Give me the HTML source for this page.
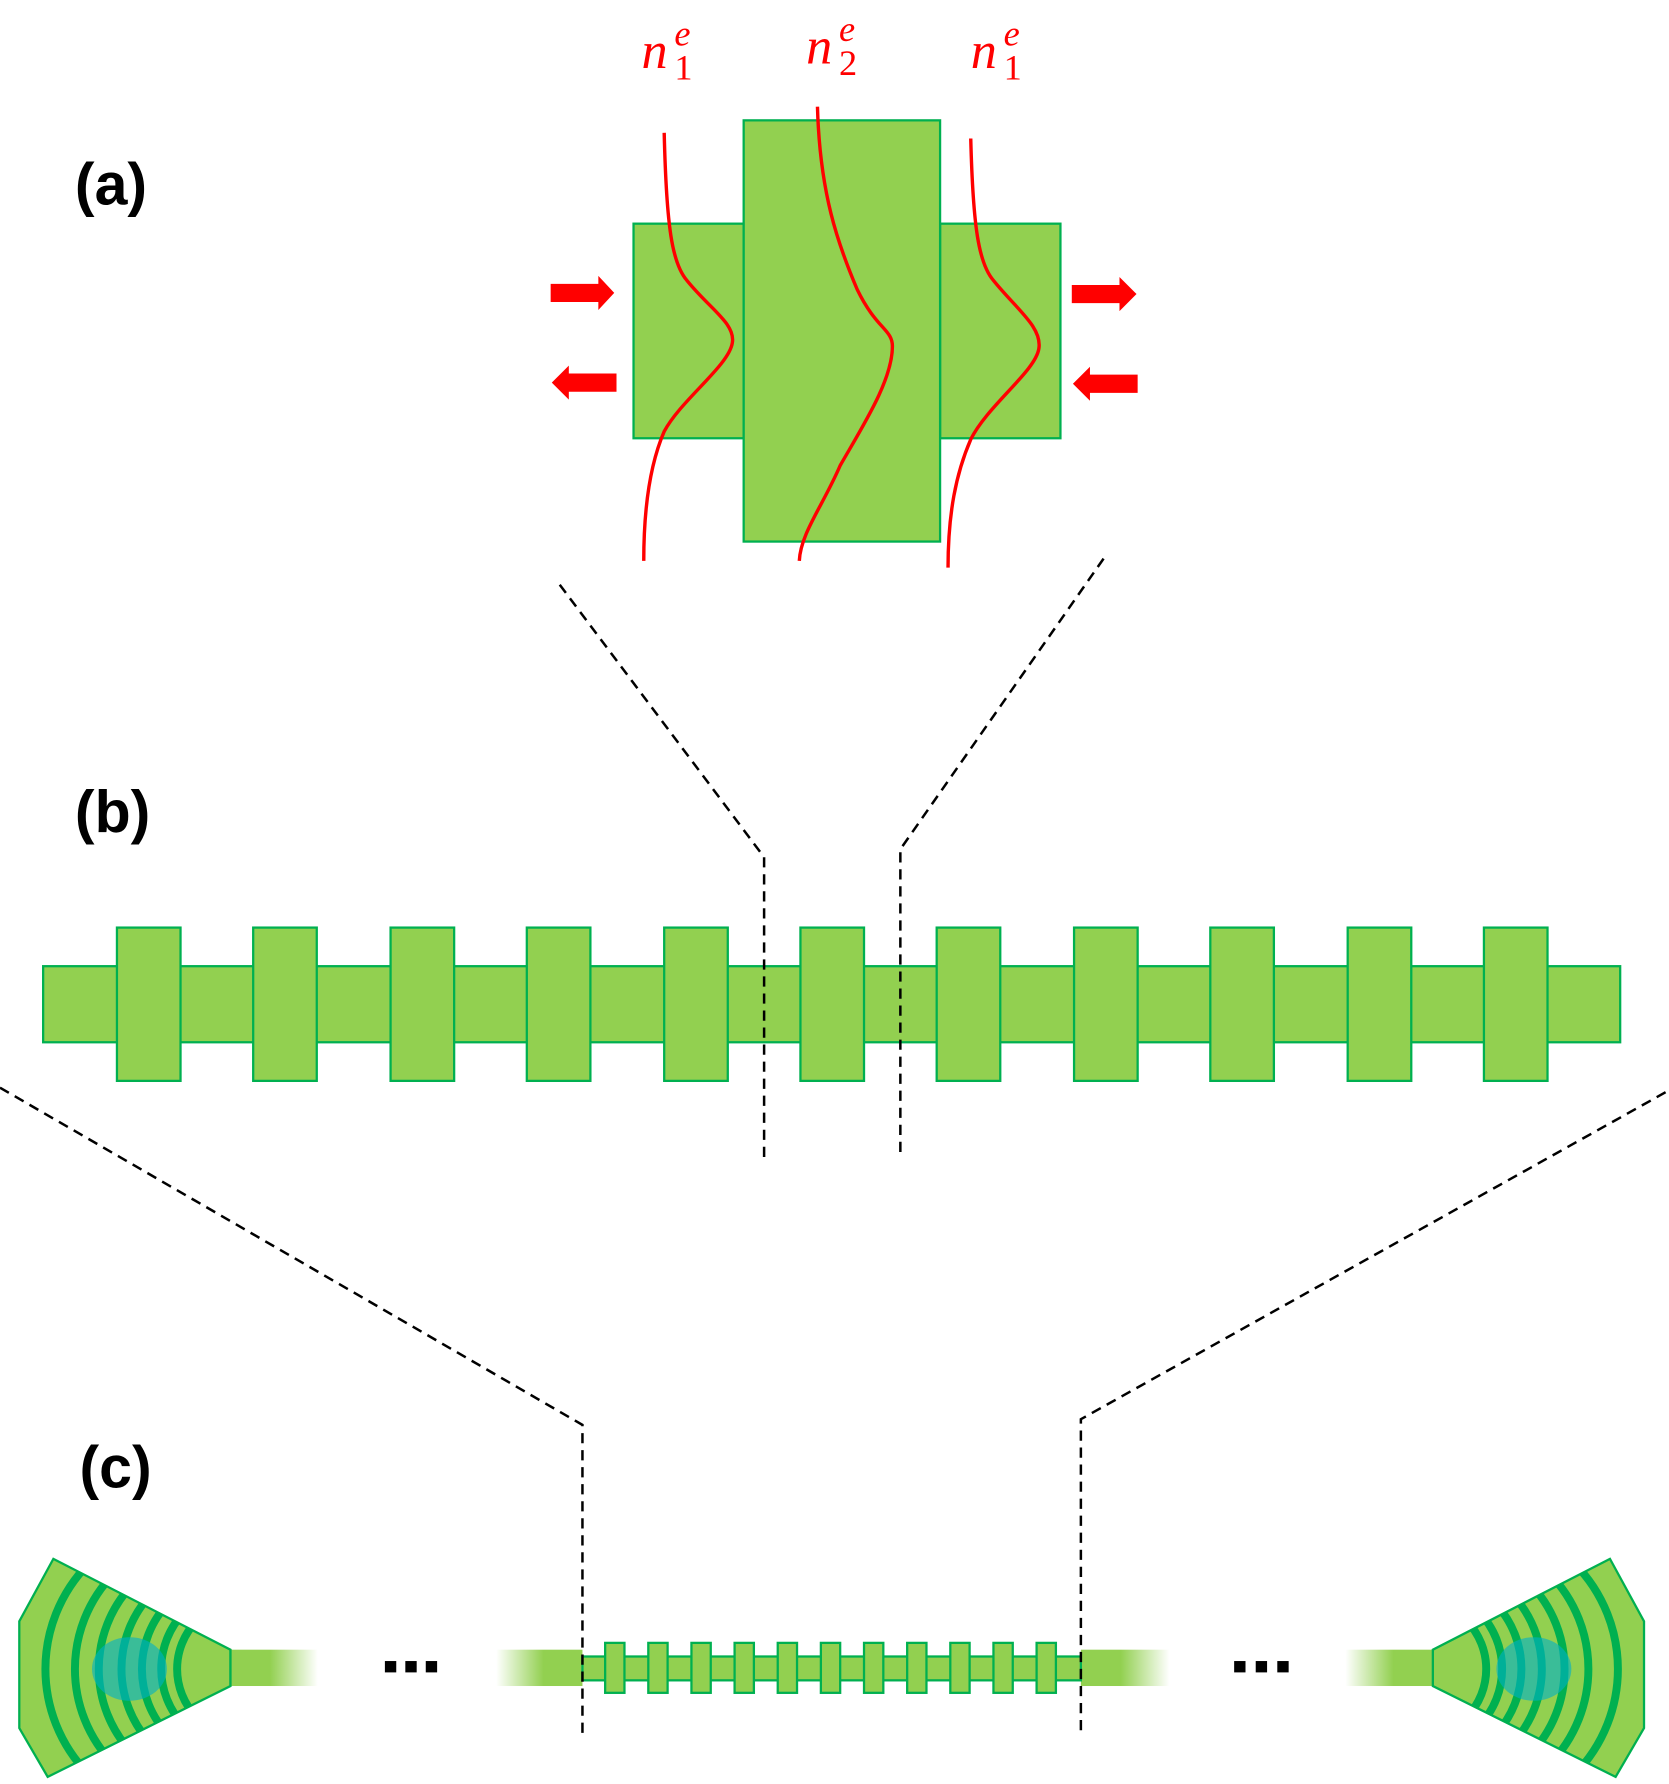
<!DOCTYPE html>
<html><head><meta charset="utf-8"><style>
html,body{margin:0;padding:0;background:#fff;}
svg{display:block;}
</style></head><body>
<svg width="1669" height="1784" viewBox="0 0 1470 1571.3" preserveAspectRatio="none" xmlns="http://www.w3.org/2000/svg">
<defs>
<linearGradient id="fo" x1="0" x2="1" y1="0" y2="0">
<stop offset="0" stop-color="#92d050"/><stop offset="0.45" stop-color="#92d050"/><stop offset="1" stop-color="#92d050" stop-opacity="0"/>
</linearGradient>
<linearGradient id="fi" x1="0" x2="1" y1="0" y2="0">
<stop offset="0" stop-color="#92d050" stop-opacity="0"/><stop offset="0.55" stop-color="#92d050"/><stop offset="1" stop-color="#92d050"/>
</linearGradient>
<clipPath id="hc"><polygon points="47,1373 17,1428 17,1522 42,1565 203,1485 203,1453"/></clipPath>
<g id="horn">
<polygon points="47,1373 17,1428 17,1522 42,1565 203,1485 203,1453" fill="#92d050" stroke="#00b050" stroke-width="2"/>
<g clip-path="url(#hc)" fill="none" stroke="#00b050" stroke-width="7">
<circle cx="172" cy="1470" r="132"/>
<circle cx="186" cy="1470" r="120"/>
<circle cx="195" cy="1470" r="108"/>
<circle cx="203" cy="1470" r="96"/>
<circle cx="209" cy="1470" r="84"/>
<circle cx="214" cy="1470" r="72"/>
<circle cx="217" cy="1470" r="61"/>
</g>
<ellipse cx="114" cy="1470" rx="33" ry="28" fill="#00b0c8" fill-opacity="0.6"/>
<rect x="203" y="1453" width="77" height="32" fill="url(#fo)"/>
<line x1="203" y1="1453" x2="203" y2="1485" stroke="#00b050" stroke-width="2"/>
</g>
</defs>

<g font-family="Liberation Sans, sans-serif" font-weight="bold" font-size="52" fill="#000">
<text x="66" y="180">(a)</text>
<text x="66" y="733">(b)</text>
<text x="70" y="1310">(c)</text>
</g>

<!-- (a) -->
<g fill="#92d050" stroke="#00b050" stroke-width="2">
<rect x="558" y="197" width="97" height="189"/>
<rect x="828" y="197" width="106" height="189"/>
<rect x="655" y="106" width="173" height="371"/>
</g>
<g fill="none" stroke="#ff0000" stroke-width="3">
<path d="M585,117 C587,200 592,232 605,247 C625,272 648,285 645,302 C642,322 600,352 585,380 C572,410 567,450 567,494"/>
<path d="M720,94 C722,170 738,215 755,255 C772,290 786,290 786,305 C786,335 760,375 740,410 C725,445 705,470 704,494"/>
<path d="M855,122 C857,200 862,232 875,247 C895,272 918,288 915,307 C912,327 870,357 855,387 C842,417 835,452 835,500"/>
</g>
<g fill="#ff0000">
<polygon points="485,250 527,250 527,243 541,258 527,273 527,266 485,266"/>
<polygon points="543,329 501,329 501,322 486,337 501,352 501,345 543,345"/>
<polygon points="944,251 986,251 986,244 1001,259 986,274 986,267 944,267"/>
<polygon points="1002,330 960,330 960,323 945,338 960,353 960,346 1002,346"/>
</g>
<g font-family="Liberation Serif, serif" fill="#ff0000" font-style="italic">
<text x="565" y="60" font-size="46">n</text><text x="594" y="40" font-size="32">e</text><text x="594" y="70" font-size="32" font-style="normal">1</text>
<text x="710" y="56" font-size="46">n</text><text x="739" y="36" font-size="32">e</text><text x="739" y="66" font-size="32" font-style="normal">2</text>
<text x="855" y="60" font-size="46">n</text><text x="884" y="40" font-size="32">e</text><text x="884" y="70" font-size="32" font-style="normal">1</text>
</g>

<!-- (b) -->
<rect x="38" y="851" width="1389" height="67" fill="#92d050" stroke="#00b050" stroke-width="2"/>
<g fill="#92d050" stroke="#00b050" stroke-width="2">
<rect x="103" y="817" width="56" height="135"/>
<rect x="223" y="817" width="56" height="135"/>
<rect x="344" y="817" width="56" height="135"/>
<rect x="464" y="817" width="56" height="135"/>
<rect x="585" y="817" width="56" height="135"/>
<rect x="705" y="817" width="56" height="135"/>
<rect x="825" y="817" width="56" height="135"/>
<rect x="946" y="817" width="56" height="135"/>
<rect x="1066" y="817" width="56" height="135"/>
<rect x="1187" y="817" width="56" height="135"/>
<rect x="1307" y="817" width="56" height="135"/>
</g>

<!-- (c) -->
<use href="#horn"/>
<use href="#horn" transform="translate(1465,0) scale(-1,1)"/>
<rect x="437" y="1453" width="76" height="32" fill="url(#fi)"/>
<rect x="952" y="1453" width="78" height="32" fill="url(#fo)"/>
<rect x="513" y="1459" width="439" height="21" fill="#92d050" stroke="#00b050" stroke-width="2"/>
<g fill="#92d050" stroke="#00b050" stroke-width="2">
<rect x="533" y="1447" width="17" height="44"/>
<rect x="571" y="1447" width="17" height="44"/>
<rect x="609" y="1447" width="17" height="44"/>
<rect x="647" y="1447" width="17" height="44"/>
<rect x="685" y="1447" width="17" height="44"/>
<rect x="723" y="1447" width="17" height="44"/>
<rect x="761" y="1447" width="17" height="44"/>
<rect x="799" y="1447" width="17" height="44"/>
<rect x="837" y="1447" width="17" height="44"/>
<rect x="875" y="1447" width="17" height="44"/>
<rect x="913" y="1447" width="17" height="44"/>
</g>
<g fill="#000">
<rect x="339" y="1463" width="10" height="10"/><rect x="357" y="1463" width="10" height="10"/><rect x="375" y="1463" width="10" height="10"/>
<rect x="1087" y="1463" width="10" height="10"/><rect x="1106" y="1463" width="10" height="10"/><rect x="1125" y="1463" width="10" height="10"/>
</g>

<!-- dashed connectors -->
<g fill="none" stroke="#000" stroke-width="2.2" stroke-dasharray="9,6">
<polyline points="493,515 673,755 673,1025"/>
<polyline points="972,492 793,748 793,1020"/>
<polyline points="0,958 513,1255 513,1528"/>
<polyline points="1467,962 952,1250 952,1525"/>
</g>
</svg>
</body></html>
